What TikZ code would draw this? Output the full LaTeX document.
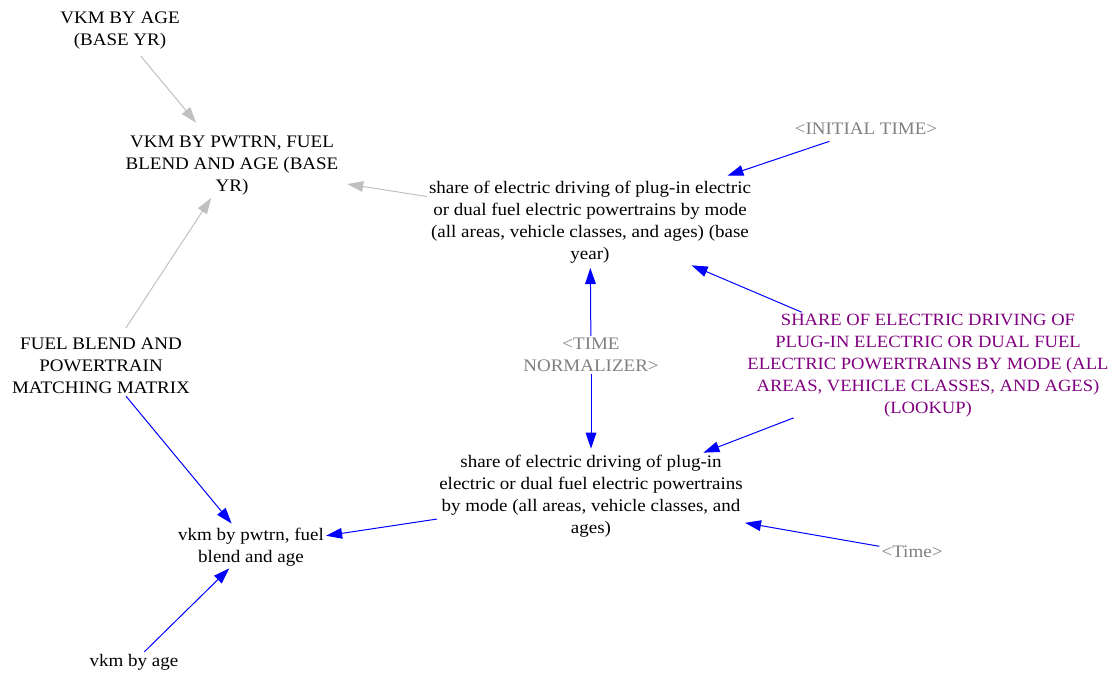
\documentclass[tikz,border=0pt]{standalone}
\usepackage{fontspec}
\setmainfont{Liberation Serif}[FakeStretch=1.08]
\usetikzlibrary{arrows.meta}
\definecolor{linkgrey}{RGB}{192,192,192}
\definecolor{shadowgrey}{RGB}{128,128,128}
\definecolor{linkblue}{RGB}{0,0,255}
\definecolor{lookuppurple}{RGB}{128,0,128}
\begin{document}
\begin{tikzpicture}[x=0.75pt,y=-0.75pt,
  var/.style={align=center,inner sep=1.5pt,font=\fontsize{13.2}{16.5}\selectfont},
  shadow/.style={var,text=shadowgrey},
  lookup/.style={var,text=lookuppurple,font=\fontsize{12.9}{16.5}\selectfont},
  link/.style={line width=0.75pt,-{Triangle[length=12pt,width=8pt]}},
  greylink/.style={link,draw=linkgrey},
  bluelink/.style={link,draw=linkblue}]
\useasboundingbox (0,0) rectangle (1112,675);

% variables
\node[var] (vkmAgeBase) at (120,31) {VKM BY AGE\\(BASE YR)};
\node[var] (vkmBase) at (232,166) {VKM BY PWTRN, FUEL\\BLEND AND AGE (BASE\\YR)};
\node[var] (shareBase) at (590,222) {share of electric driving of plug-in electric\\or dual fuel electric powertrains by mode\\(all areas, vehicle classes, and ages) (base\\year)};
\node[shadow] (initTime) at (866,129) {<INITIAL TIME>};
\node[shadow] (timeNorm) at (591,355) {<TIME\\NORMALIZER>};
\node[lookup] (lookupTbl) at (928,366) {SHARE OF ELECTRIC DRIVING OF\\PLUG-IN ELECTRIC OR DUAL FUEL\\ELECTRIC POWERTRAINS BY MODE (ALL\\AREAS, VEHICLE CLASSES, AND AGES)\\(LOOKUP)};
\node[var] (fuelMatrix) at (101,366) {FUEL BLEND AND\\POWERTRAIN\\MATCHING MATRIX};
\node[var] (shareLow) at (591,496) {share of electric driving of plug-in\\electric or dual fuel electric powertrains\\by mode (all areas, vehicle classes, and\\ages)};
\node[shadow] (timeVar) at (912,552) {<Time>};
\node[var] (vkmPw) at (251,547) {vkm by pwtrn, fuel\\blend and age};
\node[var] (vkmAge) at (134,662) {vkm by age};

% grey links
\draw[greylink,shorten <=4pt,shorten >=11pt] (vkmAgeBase) -- (vkmBase);
\draw[greylink,shorten >=5pt] (shareBase) -- (vkmBase);
\draw[greylink,shorten <=7pt] (fuelMatrix) -- (vkmBase);

% blue links
\draw[bluelink,shorten <=10pt,shorten >=7pt] (initTime) -- (shareBase);
\draw[bluelink,shorten >=2pt] (timeNorm) -- (shareBase);
\draw[bluelink,shorten >=3pt] (timeNorm) -- (shareLow);
\draw[bluelink] (lookupTbl) -- (shareBase);
\draw[bluelink,shorten <=-4pt] (lookupTbl) -- (shareLow);
\draw[bluelink] (timeVar) -- (shareLow);
\draw[bluelink] (shareLow) -- (vkmPw);
\draw[bluelink,shorten >=2pt] (fuelMatrix) -- (vkmPw);
\draw[bluelink] (vkmAge) -- (vkmPw);
\end{tikzpicture}
\end{document}
